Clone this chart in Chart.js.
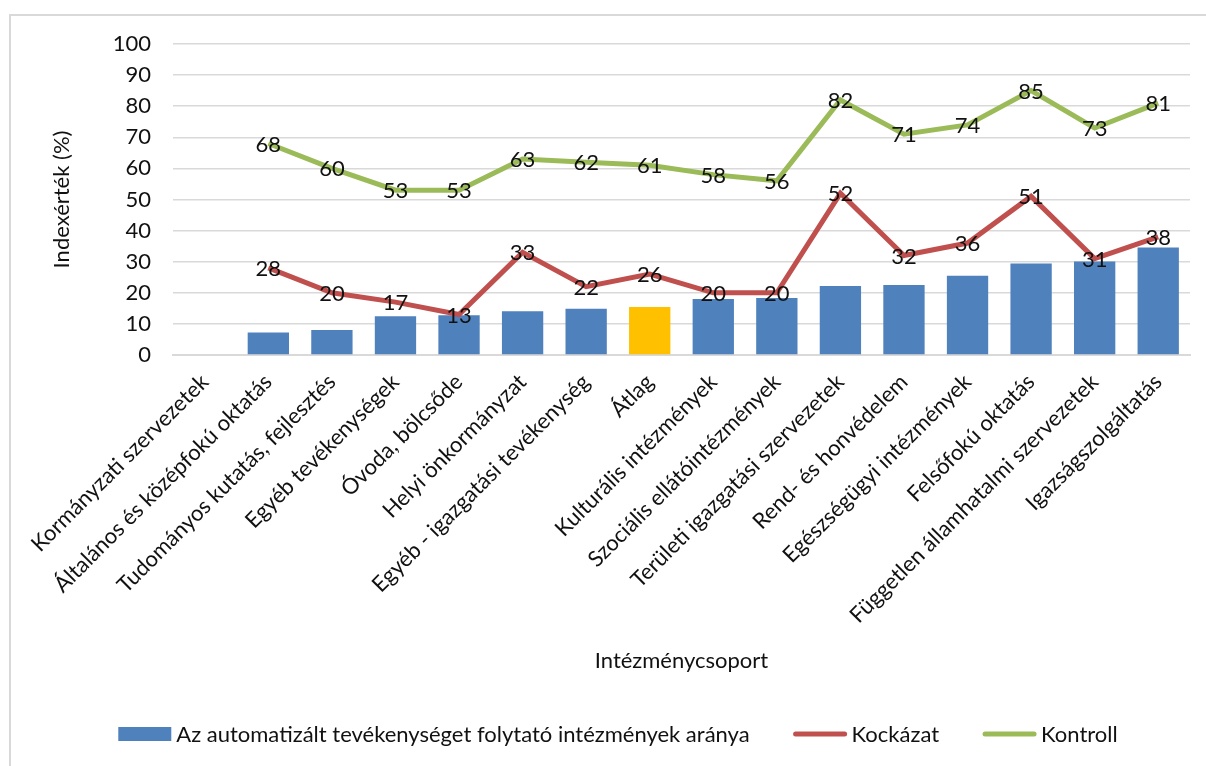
<!DOCTYPE html>
<html>
<head>
<meta charset="utf-8">
<script src="https://cdn.jsdelivr.net/npm/chart.js@4.4.0/dist/chart.umd.min.js"></script>
<style>
  html, body { margin: 0; padding: 0; background: #fff; }
  #wrap { position: relative; width: 1206px; height: 766px; }
</style>
</head>
<body>
<div id="wrap"><canvas id="c" width="1206" height="766"></canvas></div>
<script>
const categories = [
  "Kormányzati szervezetek",
  "Általános és középfokú oktatás",
  "Tudományos kutatás, fejlesztés",
  "Egyéb tevékenységek",
  "Óvoda, bölcsőde",
  "Helyi önkormányzat",
  "Egyéb - igazgatási tevékenység",
  "Átlag",
  "Kulturális intézmények",
  "Szociális ellátóintézmények",
  "Területi igazgatási szervezetek",
  "Rend- és honvédelem",
  "Egészségügyi intézmények",
  "Felsőfokú oktatás",
  "Független államhatalmi szervezetek",
  "Igazságszolgáltatás"
];
const automatizaltArany = [null, 7.2, 8.0, 12.5, 12.8, 14.1, 14.9, 15.4, 18.0, 18.3, 22.2, 22.5, 25.5, 29.4, 30.1, 34.6];
const kockazat = [null, 28, 20, 17, 13, 33, 22, 26, 20, 20, 52, 32, 36, 51, 31, 38];
const kontroll = [null, 68, 60, 53, 53, 63, 62, 61, 58, 56, 82, 71, 74, 85, 73, 81];
const yTicks = [0, 10, 20, 30, 40, 50, 60, 70, 80, 90, 100];
const seriesNames = ["Az automatizált tevékenységet folytató intézmények aránya", "Kockázat", "Kontroll"];
const axisTitleY = "Indexérték (%)";
const axisTitleX = "Intézménycsoport";

const BLUE = '#4F81BD', YELLOW = '#FFC000', RED = '#C0504D', GREEN = '#9BBB59';
const FONT = 'Lato';
const FS = 22;
const TXT = '#111111';

const barColors = categories.map(c => c === 'Átlag' ? YELLOW : BLUE);

const borderPlugin = {
  id: 'frame',
  beforeDraw(chart) {
    const ctx = chart.ctx;
    ctx.save();
    ctx.strokeStyle = '#d9d9d9';
    ctx.lineWidth = 2;
    ctx.beginPath();
    ctx.moveTo(10, 766);
    ctx.lineTo(10, 15);
    ctx.lineTo(1206, 15);
    ctx.stroke();
    ctx.restore();
  }
};

const valueLabels = {
  id: 'valueLabels',
  afterDatasetsDraw(chart) {
    const ctx = chart.ctx;
    ctx.save();
    ctx.font = FS + 'px ' + FONT;
    ctx.fillStyle = TXT;
    ctx.textAlign = 'center';
    ctx.textBaseline = 'middle';
    chart.data.datasets.forEach((ds, i) => {
      if (ds.type !== 'line') return;
      const meta = chart.getDatasetMeta(i);
      meta.data.forEach((pt, j) => {
        const v = ds.data[j];
        if (v === null || v === undefined) return;
        ctx.fillText(String(v), pt.x, pt.y + 1);
      });
    });
    ctx.restore();
  }
};

// legend drawn below the x axis title, items in the order bar, Kockázat, Kontroll
const legendPlugin = {
  id: 'customLegend',
  afterDraw(chart) {
    const ctx = chart.ctx;
    ctx.save();
    ctx.font = FS + 'px ' + FONT;
    ctx.textBaseline = 'middle';
    ctx.textAlign = 'left';
    const order = [2, 1, 0];
    const boxW = 53, gap = 5, spacing = 44;
    const items = order.map(i => {
      const ds = chart.data.datasets[i];
      return { ds, w: boxW + gap + ctx.measureText(ds.label).width };
    });
    const total = items.reduce((a, it) => a + it.w, 0) + spacing * (items.length - 1);
    const cy = chart.height - 32;
    let x = 618 - total / 2;
    items.forEach(it => {
      const ds = it.ds;
      if (ds.type === 'bar') {
        ctx.fillStyle = BLUE;
        ctx.fillRect(x, cy - 7, boxW, 14);
      } else {
        ctx.strokeStyle = ds.borderColor;
        ctx.lineWidth = 5;
        ctx.lineCap = 'round';
        ctx.beginPath();
        ctx.moveTo(x + 2, cy);
        ctx.lineTo(x + boxW - 2, cy);
        ctx.stroke();
      }
      ctx.fillStyle = TXT;
      ctx.fillText(ds.label, x + boxW + gap, cy + 1);
      x += it.w + spacing;
    });
    ctx.restore();
  }
};

new Chart(document.getElementById('c'), {
  data: {
    labels: categories,
    datasets: [
      {
        type: 'line', label: seriesNames[2], data: kontroll,
        borderColor: GREEN, backgroundColor: GREEN, borderWidth: 5,
        pointRadius: 0, pointHoverRadius: 0, tension: 0, order: 1
      },
      {
        type: 'line', label: seriesNames[1], data: kockazat,
        borderColor: RED, backgroundColor: RED, borderWidth: 5,
        pointRadius: 0, pointHoverRadius: 0, tension: 0, order: 2
      },
      {
        type: 'bar', label: seriesNames[0], data: automatizaltArany,
        backgroundColor: barColors, borderWidth: 0,
        categoryPercentage: 1, barPercentage: 0.65, order: 3
      }
    ]
  },
  options: {
    responsive: false,
    animation: false,
    devicePixelRatio: 1,
    layout: { padding: { left: 0, right: 16, top: 44, bottom: 52 } },
    plugins: {
      tooltip: { enabled: false },
      title: { display: false },
      legend: { display: false }
    },
    scales: {
      x: {
        offset: true,
        grid: { display: false, drawTicks: false },
        border: { display: true, color: '#d9d9d9', width: 2 },
        ticks: {
          autoSkip: false, minRotation: 45, maxRotation: 45,
          font: { family: FONT, size: FS }, color: TXT, padding: 14
        },
        title: {
          display: true, text: axisTitleX,
          font: { family: FONT, size: FS }, color: TXT,
          padding: { top: 0, bottom: 40 }
        },
        afterFit(s) { s.height = 359; }
      },
      y: {
        min: 0, max: 100,
        afterBuildTicks(s) { s.ticks = yTicks.map(v => ({ value: v })); },
        grid: { color: '#d9d9d9', lineWidth: 1.5, drawTicks: false },
        border: { display: false },
        ticks: {
          font: { family: FONT, size: FS }, color: TXT, padding: 22
        },
        title: {
          display: true, text: axisTitleY,
          font: { family: FONT, size: FS }, color: TXT,
          padding: { top: 49, bottom: 0 }
        },
        afterFit(s) { s.width = 173; }
      }
    }
  },
  plugins: [borderPlugin, valueLabels, legendPlugin]
});
</script>
</body>
</html>
